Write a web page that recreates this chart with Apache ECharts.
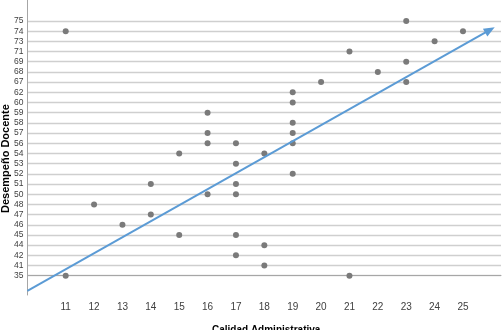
<!DOCTYPE html>
<html><head><meta charset="utf-8">
<script src="https://cdn.jsdelivr.net/npm/echarts@6/dist/echarts.min.js"></script>
<style>html,body{margin:0;padding:0;background:#fff}#c{width:503px;height:330px}</style>
</head><body><div id="c"></div>
<script>
// Tick labels
var xCategories = [11,12,13,14,15,16,17,18,19,20,21,22,23,24,25];
var yCategories = [35,41,42,44,45,46,47,48,50,51,52,53,54,56,57,58,59,60,62,67,68,69,71,73,74,75];
// Scatter points: Calidad Administrativa (x), Desempeño Docente (y)
var xValues = [11,16,16,16,17,23,25,24,21,23,22,20,23,19,19,19,19,19,15,18,17,14,17,16,17,12,14,13,15,17,18,17,18,11,19,21];
var yValues = [74,59,57,56,56,75,74,73,71,69,68,67,67,62,60,58,57,56,54,54,53,51,51,50,50,48,47,46,45,45,44,42,41,35,52,35];
// Trend arrow endpoints (x value, y category index)
var trendX = [9.65, 25.95];
var trendY = [-1.5, 24.12];

var yIdx = yCategories.map(function(v,i){return i;});
var pts = xValues.map(function(x,i){return [x, yCategories.indexOf(yValues[i])];});

var chart = echarts.init(document.getElementById('c'));
chart.setOption({
  animation:false,
  grid:{left:27.5,right:2,top:0,bottom:35,containLabel:false},
  xAxis:{type:'value',min:9.654,max:26.34,
    axisLine:{show:true,lineStyle:{color:'#a6a6a6',width:1}},
    axisTick:{show:false,customValues:xCategories},
    splitLine:{show:false},
    axisLabel:{customValues:xCategories,color:'#404040',fontFamily:'Liberation Sans',fontSize:10,margin:7}
  },
  yAxis:{type:'value',min:-1.894,max:27.06,
    axisLine:{show:true,lineStyle:{color:'#a6a6a6',width:1}},
    axisTick:{show:false,customValues:yIdx},
    splitLine:{show:true,lineStyle:{color:'#cfcfcf',width:1.3}},
    axisLabel:{customValues:yIdx,color:'#404040',fontFamily:'Liberation Sans',fontSize:8.5,margin:4,
      formatter:function(v){return String(yCategories[Math.round(v)]);}}
  },
  series:[{
    type:'scatter',data:pts,symbolSize:6,itemStyle:{color:'#7a7a7a',opacity:1},z:3
  },{
    type:'line',z:4,silent:true,
    data:[{value:[trendX[0],trendY[0]],symbol:'none'},
          {value:[trendX[1],trendY[1]],symbol:'triangle',symbolSize:[9,11],symbolRotate:-60.6}],
    lineStyle:{color:'#5b9bd5',width:2},itemStyle:{color:'#5b9bd5',borderWidth:0}
  }],
  graphic:[
    {type:'text',x:212,y:325,style:{text:'Calidad Administrativa',font:'bold 10px "Liberation Sans"',fill:'#000'}},
    {type:'text',rotation:Math.PI/2,x:0,y:213,style:{text:'Desempeño Docente',font:'bold 11px "Liberation Sans"',fill:'#000',textVerticalAlign:'top'}}
  ]
});
</script></body></html>
